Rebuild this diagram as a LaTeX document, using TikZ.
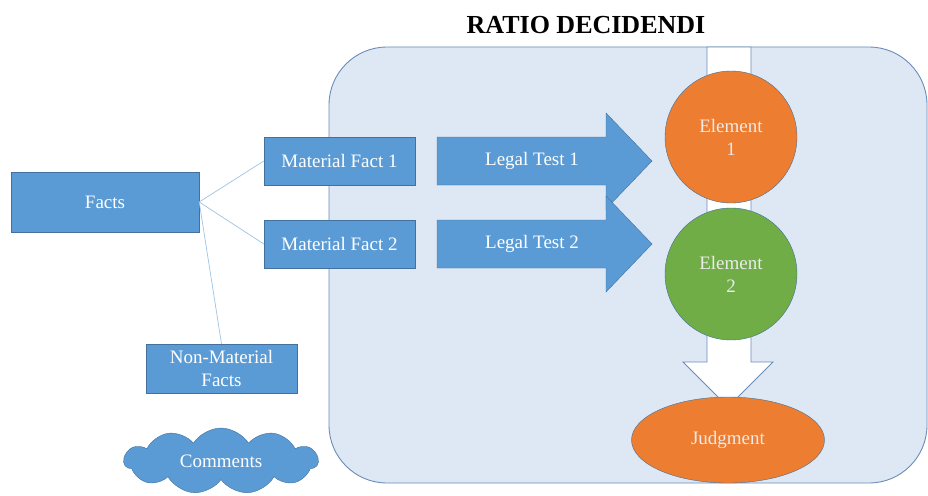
\documentclass[tikz,border=0pt]{standalone}
\usepackage{fontspec}
\setmainfont{Liberation Serif}
\usetikzlibrary{shapes.geometric,shapes.symbols}

\definecolor{factblue}{HTML}{5B9BD5}
\definecolor{edgeblue}{HTML}{41719C}
\definecolor{paleblue}{HTML}{DEE8F5}
\definecolor{linkblue}{HTML}{9DC3E6}
\definecolor{frameblue}{HTML}{6A8CB6}
\definecolor{elemorange}{HTML}{ED7D31}
\definecolor{elemgreen}{HTML}{70AD47}

\tikzset{
  bodyfont/.style={font=\fontsize{19}{23}\selectfont},
  factbox/.style={draw=edgeblue,fill=factblue,text=white,bodyfont,
    minimum width=151,minimum height=48,inner sep=0pt,align=center},
  blockarrow/.style={draw=edgeblue,fill=factblue},
  element/.style={circle,draw=edgeblue,text=white!92!black,bodyfont,
    minimum size=132,inner sep=0pt,align=center},
  link/.style={draw=linkblue,line width=0.7pt}
}

\begin{document}
\begin{tikzpicture}[x=1pt,y=-1pt]
      \useasboundingbox (0,0) rectangle (928,495);
      % ratio decidendi frame
      \draw[frameblue,fill=paleblue,line width=0.9pt,rounded corners=58] (329,47) rectangle (927,483);
      \node[font=\fontsize{26}{30}\selectfont\bfseries] (title) at (586,25) {RATIO DECIDENDI};
      % white arrow down to the judgment
      \draw[frameblue,fill=white,line width=0.9pt] (707,47) -- (707,362) -- (683,362) -- (728,407) -- (773,362) -- (751,362) -- (751,47) -- cycle;
      % legal tests
      \draw[blockarrow] (437,137) -- (606,137) -- (606,113) -- (652,161) -- (606,209) -- (606,185) -- (437,185) -- cycle;
      \draw[blockarrow] (437,220) -- (606,220) -- (606,196) -- (652,244) -- (606,292) -- (606,268) -- (437,268) -- cycle;
      \node[text=white,bodyfont] (test1) at (532,161) {Legal Test 1};
      \node[text=white,bodyfont] (test2) at (532,244) {Legal Test 2};
      % facts
      \node[factbox,minimum width=188,minimum height=60] (facts) at (105,202) {Facts};
      \node[factbox] (mat1) at (339.5,161) {Material Fact 1};
      \node[factbox] (mat2) at (339.5,244) {Material Fact 2};
      \node[factbox,minimum height=49] (nonmat) at (221.5,368.5) {Non-Material\\Facts};
      \draw[link] (facts.east) -- (mat1.west);
      \draw[link] (facts.east) -- (mat2.west);
      \draw[link] (facts.east) -- (nonmat.north);
      \node[cloud,cloud puffs=11,cloud puff arc=115,aspect=3,draw=edgeblue,fill=factblue,text=white,bodyfont,
        minimum width=194,minimum height=66,inner sep=0pt] (comments) at (221,461) {Comments};
      % elements and judgment
      \node[element,fill=elemorange] (elem1) at (731,137) {Element\\1};
      \node[element,fill=elemgreen] (elem2) at (731,274) {Element\\2};
      \node[ellipse,draw=edgeblue,fill=elemorange,text=white!92!black,bodyfont,
        minimum width=193,minimum height=86,inner sep=0pt] (judgment) at (728,440) {Judgment};
    \end{tikzpicture}
\end{document}
